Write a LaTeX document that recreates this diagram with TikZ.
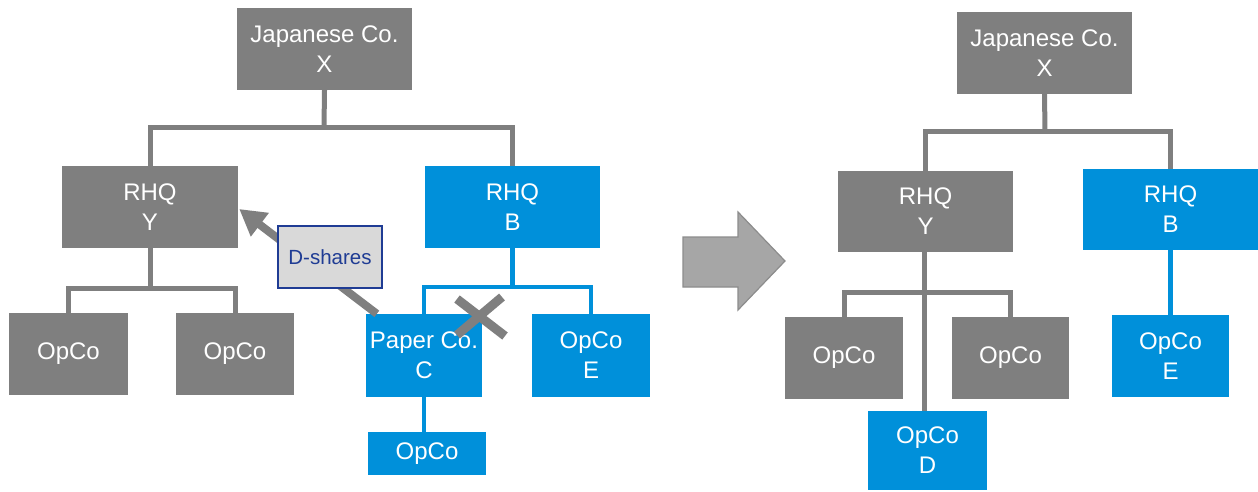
\documentclass[tikz,border=0pt]{standalone}
\usepackage{fontspec}
\setmainfont{Liberation Sans}
\usetikzlibrary{arrows.meta}
\definecolor{boxgray}{RGB}{127,127,127}
\definecolor{boxblue}{RGB}{0,144,218}
\definecolor{sharefill}{RGB}{217,217,217}
\definecolor{sharedark}{RGB}{31,60,148}
\definecolor{arrowfill}{RGB}{166,166,166}
\definecolor{arrowedge}{RGB}{140,140,140}
\tikzset{
  orgbox/.style={rectangle, inner sep=0pt, text=white, align=center,
    font=\fontsize{24}{30}\selectfont},
  graybox/.style={orgbox, fill=boxgray},
  bluebox/.style={orgbox, fill=boxblue},
  grayline/.style={draw=boxgray, line width=5pt},
  blueline/.style={draw=boxblue, line width=4.5pt},
  sharetag/.style={rectangle, fill=sharefill, draw=sharedark, line width=1.4pt,
    text=sharedark, font=\fontsize{20.5}{24}\selectfont, inner sep=0pt},
  sharearrow/.style={draw=boxgray, line width=8pt,
    -{Triangle[length=26pt,width=28pt]}},
  crossmark/.style={draw=boxgray, line width=9pt},
  bigarrow/.style={fill=arrowfill, draw=arrowedge, line width=1.2pt}
}
\begin{document}
\begin{tikzpicture}[x=1pt,y=-1pt]
\path[use as bounding box] (0,0) rectangle (1258,491);

% ---------- before: ownership structure ----------
\node[graybox, minimum width=175pt, minimum height=82pt] (X) at (324.5,49) {Japanese Co.\\X};
\node[graybox, minimum width=176pt, minimum height=82pt] (Y) at (150,207) {RHQ\\Y};
\node[bluebox, minimum width=175pt, minimum height=82pt] (B) at (512.5,207) {RHQ\\B};
\node[graybox, minimum width=119pt, minimum height=82pt] (O1) at (68.5,354) {OpCo};
\node[graybox, minimum width=118pt, minimum height=82pt] (O2) at (235,354) {OpCo};
\node[bluebox, minimum width=116pt, minimum height=83pt] (C) at (424,355.5) {Paper Co.\\C};
\node[bluebox, minimum width=118pt, minimum height=83pt] (E) at (591,355.5) {OpCo\\E};
\node[bluebox, minimum width=118pt, minimum height=43pt] (CO) at (427,453.5) {OpCo};

\coordinate (jX) at (324,127);
\coordinate (jY) at (150,288);
\coordinate (jB) at (512.5,287);

\draw[grayline] (X.south) -- (jX);
\draw[grayline] (Y.north) |- (jX) -| (B.north);
\draw[grayline] (Y.south) -- (jY);
\draw[grayline] (O1.north) |- (jY) -| (O2.north);
\draw[blueline] (B.south) -- (jB);
\draw[blueline] (C.north) |- (jB) -| (E.north);
\draw[blueline] (C.south) -- (C.south |- CO.north);

% transfer of the D-shares to RHQ Y
\draw[sharearrow] ([xshift=11pt]C.north west) -- ([xshift=1pt,yshift=-2pt]Y.east);
\node[sharetag, minimum width=104pt, minimum height=62pt] (DS) at (330,257) {D-shares};

% severed link between RHQ B and Paper Co. C
\coordinate (cut) at (480,317);
\draw[crossmark] ([shift={(-23,-18)}]cut) -- ([shift={(25,19)}]cut);
\draw[crossmark] ([shift={(22,-20)}]cut) -- ([shift={(-23,18)}]cut);

% ---------- transition arrow ----------
\draw[bigarrow] (683,237) -- (738,237) -- (738,212) -- (785,261)
  -- (738,310) -- (738,287) -- (683,287) -- cycle;

% ---------- after: ownership structure ----------
\node[graybox, minimum width=175pt, minimum height=82pt] (X2) at (1044.5,53) {Japanese Co.\\X};
\node[graybox, minimum width=175pt, minimum height=81pt] (Y2) at (925.5,211.5) {RHQ\\Y};
\node[bluebox, minimum width=175pt, minimum height=81pt] (B2) at (1170.5,209.5) {RHQ\\B};
\node[graybox, minimum width=118pt, minimum height=82pt] (P1) at (844,358) {OpCo};
\node[graybox, minimum width=117pt, minimum height=82pt] (P2) at (1010.5,358) {OpCo};
\node[bluebox, minimum width=119pt, minimum height=79pt] (D2) at (927.5,450.5) {OpCo\\D};
\node[bluebox, minimum width=117pt, minimum height=82pt] (E2) at (1170.5,356) {OpCo\\E};

\coordinate (jX2) at (1045,131);
\coordinate (jY2) at (926,292);

\draw[grayline] (X2.south) -- (jX2);
\draw[grayline] (Y2.north) |- (jX2) -| (B2.north);
\draw[grayline] (P1.north) |- (jY2) -| (P2.north);
\draw[grayline] ([xshift=-1.5pt]Y2.south) -- ([xshift=-1.5pt]Y2.south |- D2.north);
\draw[blueline] (B2.south) -- (E2.north);
\end{tikzpicture}
\end{document}
